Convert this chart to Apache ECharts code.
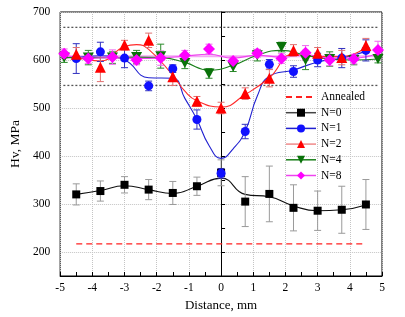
<!DOCTYPE html>
<html><head><meta charset="utf-8">
<script src="https://cdn.jsdelivr.net/npm/echarts@6/dist/echarts.min.js"></script>
<style>html,body{margin:0;padding:0;background:#fff}#c{width:405px;height:317px}</style>
</head><body><div id="c"></div>
<script>
// ---- data ----
const xA = [-4.5,-3.75,-3,-2.25,-1.5,-0.75,0,0.75,1.5,2.25,3,3.75,4.5];
const xB = [-4.875,-4.125,-3.375,-2.625,-1.875,-1.125,-0.375,0.375,1.125,1.875,2.625,3.375,4.125,4.875];
const n0 = [320,327,340,330,323,337,365,305,321,292,286,288,299];
const n0Err = [22,21,17,21,24,19,27,52,58,48,41,49,52];
const n1 = [603,617,604,546,582,476,364,451,591,576,600,604,620];
const n1Err = [31,20,20,10,8,20,10,15,10,12,14,20,22];
const n2 = [612,585,631,641,565,514,500,530,562,620,614,605,630];
const n2Err = [14,30,10,15,18,10,12,12,18,12,12,15,15];
const n4 = [605,605,605,606,608,594,572,586,610,627,600,602,600,602];
const n4Err = [10,15,12,14,25,12,10,10,12,10,20,15,10,8];
const n8 = [613,603,606,600,604,610,623,598,614,603,615,600,602,621];
const n8Err = [10,10,15,10,15,10,10,8,8,10,15,12,10,18];
// fitted curves: [x, value]
const fit0 = [[-4.5,320],[-3.75,328],[-3,338],[-2.25,330],[-1.5,322],[-0.75,337],[0,354],[0.75,320],[1.5,315],[2.25,296],[3,286],[3.75,288],[4.5,298]];
const fit1 = [[-4.5,605],[-3.75,609],[-3,600],[-2.25,563],[-1.5,562],[-1.125,520],[-0.75,476],[-0.375,422],[0,395],[0.375,415],[0.75,452],[1.125,525],[1.5,566],[2.25,579],[3,596],[3.75,604],[4.5,618]];
const fit2 = [[-4.5,607],[-3.75,598],[-3,628],[-2.625,632],[-2.25,622],[-1.5,568],[-1.125,535],[-0.75,515],[0,502],[0.75,528],[1.5,563],[2.25,612],[3,607],[3.75,607],[4.5,626]];
const fit4 = [[-4.875,605],[-4.125,605],[-3.375,605],[-2.625,606],[-1.875,605],[-1.125,595],[-0.375,579],[0.375,589],[1.125,610],[1.875,620],[2.625,610],[3.375,602],[4.125,600],[4.875,602]];
const fit8 = [[-4.875,610],[-4.125,604],[-3.375,605],[-2.625,603],[-1.875,604],[-1.125,608],[-0.375,612],[0.375,604],[1.125,610],[1.875,606],[2.625,611],[3.375,604],[4.125,604],[4.875,614]];
const n8Mean = 608;
const annealed = 217;
const annealedRange = [-4.5, 4.5];
const boundUpper = 668, boundLower = 547;
const boundRange = [-4.9, 4.9];

// ---- styles ----
const FONT = 'Liberation Serif';
const downTri = 'path://M0,0 L10,0 L5,9 Z';

function errSeries(xs, ys, es, color){
  return {
    type:'custom', z:3, silent:true,
    data: xs.map((x,i)=>[x, ys[i], es[i]]),
    encode:{x:0,y:1},
    renderItem:function(params, api){
      const x=api.value(0), y=api.value(1), e=api.value(2);
      const t=api.coord([x,y+e]), b=api.coord([x,y-e]);
      const w=3.5, st={stroke:color, lineWidth:1};
      return {type:'group', children:[
        {type:'line', shape:{x1:t[0],y1:t[1],x2:b[0],y2:b[1]}, style:st},
        {type:'line', shape:{x1:t[0]-w,y1:t[1],x2:t[0]+w,y2:t[1]}, style:st},
        {type:'line', shape:{x1:b[0]-w,y1:b[1],x2:b[0]+w,y2:b[1]}, style:st}
      ]};
    }
  };
}
function fitSeries(pts, color, w){
  return {type:'line', data:pts, smooth:0.5, symbol:'none', z:2, silent:true,
    lineStyle:{color:color, width:w||1}};
}
function ptSeries(name, xs, ys, symbol, size, color){
  return {type:'line', name:name, data:xs.map((x,i)=>[x,ys[i]]), symbol:symbol, symbolSize:size,
    showAllSymbol:true, z:4, itemStyle:{color:color, opacity:1},
    lineStyle:{opacity:0, color:color}};
}

const chart = echarts.init(document.getElementById('c'), null, {renderer:'canvas'});
chart.setOption({
  animation:false,
  backgroundColor:'#fff',
  textStyle:{fontFamily:FONT},
  grid:{left:57, right:23, top:12, bottom:41, show:true, borderColor:'#000', borderWidth:1, backgroundColor:'transparent'},
  xAxis:{type:'value', min:-5, max:5, interval:0.5,
    name:'Distance, mm', nameLocation:'middle', nameGap:21,
    nameTextStyle:{fontFamily:FONT, fontSize:13, color:'#000'},
    axisLine:{lineStyle:{color:'#000', width:1}},
    axisTick:{inside:true, length:4, lineStyle:{color:'#000'}},
    axisLabel:{fontFamily:FONT, fontSize:11.5, color:'#000', margin:6,
      formatter:v=>Number.isInteger(v)?String(v):''},
    splitLine:{show:true, lineStyle:{type:'dotted', color:['#c4c4c4','rgba(0,0,0,0)'], width:1}}
  },
  yAxis:{type:'value', min:150, max:700, interval:50,
    name:'Hv, MPa', nameLocation:'middle', nameGap:37,
    nameTextStyle:{fontFamily:FONT, fontSize:13.5, color:'#000'},
    axisLine:{show:true, lineStyle:{color:'#000', width:1}},
    axisTick:{show:true, inside:true, length:4, lineStyle:{color:'#000'}},
    axisLabel:{fontFamily:FONT, fontSize:11.5, color:'#000', margin:10,
      formatter:v=>(v%100===0)?String(v):''},
    splitLine:{show:true, lineStyle:{type:'dotted', color:['rgba(0,0,0,0)','#c4c4c4'], width:1}}
  },
  legend:{orient:'vertical', left:280, top:86, itemWidth:30, itemHeight:10, itemGap:3.7,
    textStyle:{fontFamily:FONT, fontSize:11.5, color:'#000'},
    data:[
      {name:'Annealed', itemStyle:{opacity:0}},
      {name:'N=0', lineStyle:{opacity:1, color:'#444', width:1.5}},
      {name:'N=1', lineStyle:{opacity:1, color:'#2020d0', width:1.5}},
      {name:'N=2', lineStyle:{opacity:1, color:'#f08a8a', width:1.5}},
      {name:'N=4', lineStyle:{opacity:1, color:'#1a801a', width:1.5}},
      {name:'N=8', lineStyle:{opacity:1, color:'#ee44ee', width:1.5}}
    ]},
  series:[
    {type:'line', name:'Annealed', data:[[annealedRange[0],annealed],[annealedRange[1],annealed]], symbol:'none', z:2,
      itemStyle:{color:'#ff2020', opacity:0},
      lineStyle:{color:'#ff2020', width:1.3, type:[6,4]}},
    {type:'line', data:[[boundRange[0],boundUpper],[boundRange[1],boundUpper]], symbol:'none', z:2, silent:true,
      lineStyle:{color:'#555', width:1.3, type:[2,2]}},
    {type:'line', data:[[boundRange[0],boundLower],[boundRange[1],boundLower]], symbol:'none', z:2, silent:true,
      lineStyle:{color:'#555', width:1.3, type:[2,2]}},
    {type:'line', data:[[xB[0],n8Mean],[xB[xB.length-1],n8Mean]], symbol:'none', z:1, silent:true,
      lineStyle:{color:'#f4a8f4', width:2}},
    fitSeries(fit0,'#111',1.1),
    fitSeries(fit1,'#2020d0',1.1),
    fitSeries(fit2,'#ff2a2a',1.1),
    fitSeries(fit4,'#1a801a',1.1),
    fitSeries(fit8,'#ee44ee',1.1),
    errSeries(xA,n0,n0Err,'#9a9a9a'),
    errSeries(xA,n1,n1Err,'#3030c0'),
    errSeries(xA,n2,n2Err,'#e07070'),
    errSeries(xB,n4,n4Err,'#2a8a2a'),
    errSeries(xB,n8,n8Err,'#ee66ee'),
    ptSeries('N=0',xA,n0,'rect',8,'#000'),
    ptSeries('N=1',xA,n1,'circle',9,'#1010ff'),
    ptSeries('N=2',xA,n2,'triangle',11,'#ff0000'),
    ptSeries('N=4',xB,n4,downTri,[11,10],'#0a720a'),
    ptSeries('N=8',xB,n8,'diamond',12,'#ff00ff')
  ]
});
</script></body></html>
